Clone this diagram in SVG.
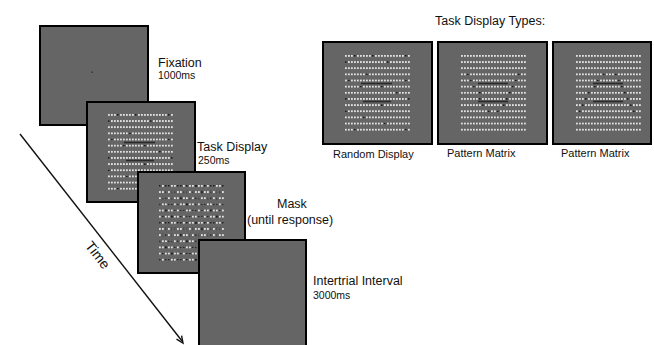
<svg xmlns="http://www.w3.org/2000/svg" xmlns:xlink="http://www.w3.org/1999/xlink" width="654" height="345" viewBox="0 0 654 345">
<style>
.box{fill:#656565;stroke:#000;stroke-width:2}
.lbl{font-family:"Liberation Sans",Arial,sans-serif;font-size:12.5px;fill:#111}
.sm{font-family:"Liberation Sans",Arial,sans-serif;font-size:10.5px;fill:#111}
.cap{font-family:"Liberation Sans",Arial,sans-serif;font-size:11px;fill:#111}
.bar{stroke:#2a2a2a;stroke-width:1.6}
.grid{fill:url(#dots)}
</style>
<defs>
<pattern id="dots" patternUnits="userSpaceOnUse" width="3" height="6.15"><rect width="1.8" height="1.8" fill="#e2e2e2"/></pattern>
<pattern id="mk1" patternUnits="userSpaceOnUse" width="9" height="18.45"><rect x="0" y="0" width="1.8" height="1.8" fill="#1e1e1e"/><rect x="6" y="6.15" width="1.8" height="1.8" fill="#1e1e1e"/><rect x="3" y="12.3" width="1.8" height="1.8" fill="#1e1e1e"/></pattern>
<pattern id="mk2" patternUnits="userSpaceOnUse" width="15" height="12.3"><rect x="6" y="0" width="1.8" height="1.8" fill="#1e1e1e"/><rect x="12" y="6.15" width="1.8" height="1.8" fill="#1e1e1e"/></pattern>
<rect id="bd" width="1.8" height="1.8" fill="#1a1a1a"/>
<g id="random">
<rect class="grid" width="65" height="76"/>
<use xlink:href="#bd" x="9" y="0"/><use xlink:href="#bd" x="27" y="0"/><use xlink:href="#bd" x="60" y="0"/>
<use xlink:href="#bd" x="0" y="6.15"/><use xlink:href="#bd" x="42" y="6.15"/>
<use xlink:href="#bd" x="21" y="18.45"/>
<use xlink:href="#bd" x="3" y="24.6"/><use xlink:href="#bd" x="60" y="24.6"/>
<use xlink:href="#bd" x="15" y="30.75"/><use xlink:href="#bd" x="36" y="30.75"/>
<use xlink:href="#bd" x="51" y="36.9"/>
<use xlink:href="#bd" x="0" y="43.05"/><use xlink:href="#bd" x="63" y="43.05"/>
<use xlink:href="#bd" x="36" y="49.2"/>
<use xlink:href="#bd" x="0" y="55.35"/>
<use xlink:href="#bd" x="18" y="61.5"/>
<use xlink:href="#bd" x="39" y="67.65"/>
<use xlink:href="#bd" x="9" y="73.8"/><use xlink:href="#bd" x="60" y="73.8"/>
<line class="bar" x1="16" y1="28.5" x2="47" y2="28.5"/>
<line class="bar" x1="18" y1="46.5" x2="46" y2="46.5"/>
</g>
</defs>

<g id="connectors">
<line x1="20" y1="134" x2="182" y2="341" stroke="#111" stroke-width="1.4"/>
<path d="M176.5,339.2 L183,343 L181.6,335.6" fill="none" stroke="#111" stroke-width="1.4"/>
<text class="lbl" font-size="14" text-anchor="middle" transform="translate(94,258) rotate(52)" style="font-size:14px">Time</text>
</g>

<g id="fixation">
<rect class="box" x="40" y="26" width="108" height="99"/>
<rect x="91.5" y="71.5" width="1.5" height="1.5" fill="#333"/>
<text class="lbl" x="158" y="67">Fixation</text>
<text class="sm" x="158" y="79">1000ms</text>
</g>

<g id="task-display">
<rect class="box" x="87" y="102" width="108" height="100"/>
<use xlink:href="#random" transform="translate(108,114)"/>
<text class="lbl" x="197" y="151">Task Display</text>
<text class="sm" x="198" y="164">250ms</text>
</g>

<g id="mask">
<rect class="box" x="138" y="172" width="107" height="101"/>
<g transform="translate(159,185)">
<rect class="grid" width="65" height="76"/>
<rect width="65" height="76" fill="url(#mk1)"/>
<rect width="65" height="76" fill="url(#mk2)"/>
</g>
<text class="lbl" x="277" y="208">Mask</text>
<text class="lbl" x="247" y="224">(until response)</text>
</g>

<g id="intertrial">
<rect class="box" x="199" y="240" width="107" height="108"/>
<text class="lbl" x="313" y="285">Intertrial Interval</text>
<text class="sm" x="313" y="299">3000ms</text>
</g>

<text class="lbl" x="435" y="25">Task Display Types:</text>

<g id="random-display">
<rect class="box" x="323" y="42" width="109" height="102"/>
<use xlink:href="#random" transform="translate(345,55)"/>
<text class="cap" x="333" y="158">Random Display</text>
</g>

<g id="pattern-matrix-1">
<rect class="box" x="438" y="42" width="109" height="102"/>
<g transform="translate(461,55)">
<rect class="grid" width="65" height="76"/>
<use xlink:href="#bd" x="6" y="18.45"/><use xlink:href="#bd" x="57" y="18.45"/>
<use xlink:href="#bd" x="9" y="24.6"/><use xlink:href="#bd" x="54" y="24.6"/>
<use xlink:href="#bd" x="12" y="30.75"/><use xlink:href="#bd" x="51" y="30.75"/>
<use xlink:href="#bd" x="18" y="36.9"/><use xlink:href="#bd" x="48" y="36.9"/>
<use xlink:href="#bd" x="18" y="43.05"/><use xlink:href="#bd" x="45" y="43.05"/>
<use xlink:href="#bd" x="21" y="49.2"/><use xlink:href="#bd" x="42" y="49.2"/>
<use xlink:href="#bd" x="27" y="55.35"/><use xlink:href="#bd" x="36" y="55.35"/>
<line class="bar" x1="17" y1="28.5" x2="47" y2="28.5"/>
<line class="bar" x1="17" y1="46.5" x2="47" y2="46.5"/>
</g>
<text class="cap" x="447" y="157">Pattern Matrix</text>
</g>

<g id="pattern-matrix-2">
<rect class="box" x="553" y="42" width="98" height="102"/>
<g transform="translate(576,55)">
<rect class="grid" width="65" height="76"/>
<use xlink:href="#bd" x="27" y="18.45"/><use xlink:href="#bd" x="39" y="18.45"/>
<use xlink:href="#bd" x="21" y="24.6"/><use xlink:href="#bd" x="42" y="24.6"/>
<use xlink:href="#bd" x="18" y="30.75"/><use xlink:href="#bd" x="45" y="30.75"/>
<use xlink:href="#bd" x="12" y="36.9"/><use xlink:href="#bd" x="48" y="36.9"/>
<use xlink:href="#bd" x="9" y="43.05"/><use xlink:href="#bd" x="51" y="43.05"/>
<use xlink:href="#bd" x="6" y="49.2"/><use xlink:href="#bd" x="54" y="49.2"/>
<use xlink:href="#bd" x="3" y="55.35"/><use xlink:href="#bd" x="57" y="55.35"/>
<line class="bar" x1="17" y1="28.5" x2="47" y2="28.5"/>
<line class="bar" x1="17" y1="46.5" x2="47" y2="46.5"/>
</g>
<text class="cap" x="561" y="157">Pattern Matrix</text>
</g>
</svg>
